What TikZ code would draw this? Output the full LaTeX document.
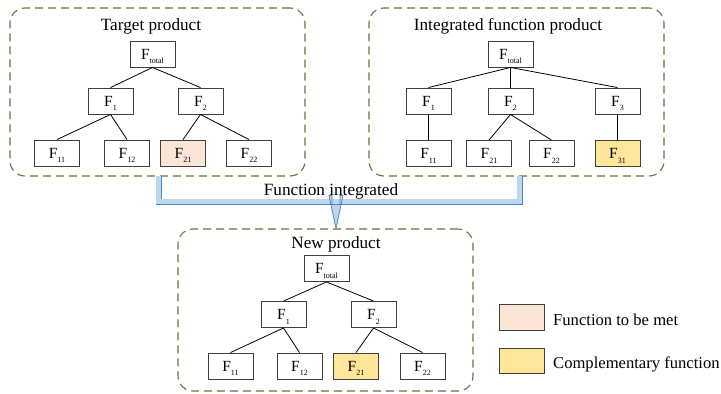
\documentclass[tikz,border=0pt]{standalone}
\usepackage{fontspec}
\setmainfont{Liberation Serif}
\definecolor{grn}{HTML}{5A7A3C}
\definecolor{peach}{HTML}{FBE5D6}
\definecolor{yel}{HTML}{FFE699}
\definecolor{pipeb}{HTML}{4A85C5}
\definecolor{pipef}{HTML}{BDD7EE}
\newcommand{\Fs}[1]{F\raisebox{-4.5pt}{\fontsize{8}{8}\selectfont #1}}
\begin{document}
\begin{tikzpicture}[x=1pt,y=-1pt,
 fbox/.style={draw=black!75, line width=0.9pt, minimum width=45pt, minimum height=26pt, inner sep=0pt, text height=10pt, text depth=0pt, font=\fontsize{15.5}{15.5}\selectfont},
 grp/.style={draw=grn, line width=1.1pt, dash pattern=on 8pt off 5pt, rounded corners=15pt, inner sep=0pt},
 ttl/.style={anchor=base, inner sep=0pt, font=\fontsize{17.2}{17.2}\selectfont},
 lgd/.style={anchor=base west, inner sep=0pt, font=\fontsize{16.6}{16.6}\selectfont},
 edge/.style={draw=black, line width=0.8pt},
 pipe/.style={draw=pipeb, double=pipef, double distance=4.2pt, line width=0.9pt}]
\useasboundingbox (0,0) rectangle (721,394);

% group frames
\node[grp, minimum width=295pt, minimum height=168pt] (g1) at (157.5,92) {};
\node[grp, minimum width=295pt, minimum height=168pt] (g2) at (516.5,92) {};
\node[grp, minimum width=295pt, minimum height=162pt] (g3) at (325.5,310) {};

\node[ttl] (t1) at (151,30) {Target product};
\node[ttl] (t2) at (508,30) {Integrated function product};
\node[ttl] (t3) at (336,248) {New product};
\node[ttl] (t4) at (331,195) {Function integrated};

% tree 1
\node[fbox] (a0) at (152.5,54) {\Fs{total}};
\node[fbox] (a1) at (110.5,101) {\Fs{1}};
\node[fbox] (a2) at (200.5,101) {\Fs{2}};
\node[fbox] (a11) at (57,153) {\Fs{11}};
\node[fbox] (a12) at (127,153) {\Fs{12}};
\node[fbox, fill=peach] (a21) at (183,153) {\Fs{21}};
\node[fbox] (a22) at (249,153) {\Fs{22}};
\draw[edge] (a0.south) -- (a1.north);
\draw[edge] (a0.south) -- (a2.north);
\draw[edge] (a1.south) -- (a11.north);
\draw[edge] (a1.south) -- (a12.north);
\draw[edge] (a2.south) -- (a21.north);
\draw[edge] (a2.south) -- (a22.north);

% tree 2
\node[fbox] (b0) at (510.5,54) {\Fs{total}};
\node[fbox] (b1) at (428.5,101) {\Fs{1}};
\node[fbox] (b2) at (510.5,101) {\Fs{2}};
\node[fbox] (b3) at (617.5,101) {\Fs{3}};
\node[fbox] (b11) at (428.5,153.5) {\Fs{11}};
\node[fbox] (b21) at (489,153.5) {\Fs{21}};
\node[fbox] (b22) at (551.5,153.5) {\Fs{22}};
\node[fbox, fill=yel] (b31) at (617.5,153.5) {\Fs{31}};
\draw[edge] (b0.south) -- (b1.north);
\draw[edge] (b0.south) -- (b2.north);
\draw[edge] (b0.south) -- (b3.north);
\draw[edge] (b1.south) -- (b11.north);
\draw[edge] (b2.south) -- (b21.north);
\draw[edge] (b2.south) -- (b22.north);
\draw[edge] (b3.south) -- (b31.north);

% tree 3
\node[fbox] (c0) at (326.5,268.5) {\Fs{total}};
\node[fbox] (c1) at (283.5,314.5) {\Fs{1}};
\node[fbox] (c2) at (373.5,314.5) {\Fs{2}};
\node[fbox] (c11) at (230.5,366) {\Fs{11}};
\node[fbox] (c12) at (299.5,366) {\Fs{12}};
\node[fbox, fill=yel] (c21) at (356,366) {\Fs{21}};
\node[fbox] (c22) at (422.5,366) {\Fs{22}};
\draw[edge] (c0.south) -- (c1.north);
\draw[edge] (c0.south) -- (c2.north);
\draw[edge] (c1.south) -- (c11.north);
\draw[edge] (c1.south) -- (c12.north);
\draw[edge] (c2.south) -- (c21.north);
\draw[edge] (c2.south) -- (c22.north);

% pipe
\coordinate (p1) at (158.5,176);
\coordinate (p2) at (519.5,176);
\coordinate (pj) at (158.5,201.5);
\draw[pipe] (p1) -- (pj) -| (p2);
% arrow
\coordinate (ar) at (336,204.5);
\filldraw[draw=pipeb, fill=pipef, line width=0.8pt, line join=round]
  ([xshift=-4pt]ar) -- ([xshift=-4pt,yshift=9pt]ar) -- ([xshift=-7pt,yshift=9pt]ar)
  -- (g3.north -| ar) -- ([xshift=7pt,yshift=9pt]ar) -- ([xshift=4pt,yshift=9pt]ar)
  -- ([xshift=4pt]ar) -- cycle;

% legend
\node[draw=black!75, line width=0.9pt, fill=peach, minimum width=45pt, minimum height=26pt, inner sep=0pt] (l1) at (521.5,317) {};
\node[draw=black!75, line width=0.9pt, fill=yel, minimum width=45pt, minimum height=25pt, inner sep=0pt] (l2) at (521.5,360.5) {};
\node[lgd] (lt1) at (553,325) {Function to be met};
\node[lgd] (lt2) at (553,368) {Complementary function};
\end{tikzpicture}
\end{document}
